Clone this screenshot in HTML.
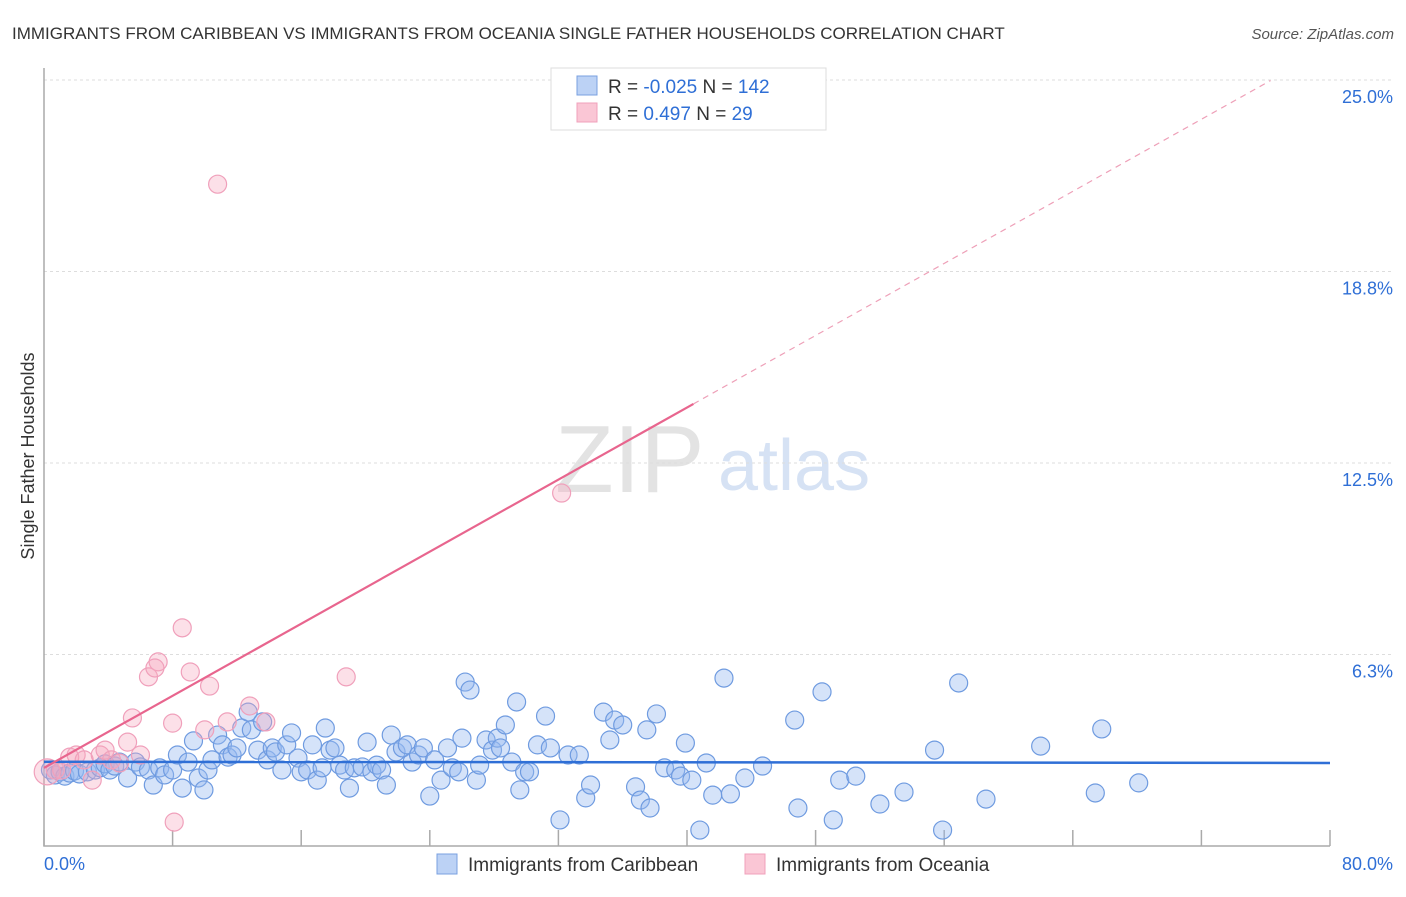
<!DOCTYPE html>
<html><head><meta charset="utf-8"><style>
body{margin:0;background:#fff;font-family:"Liberation Sans",sans-serif;}
svg text{font-family:"Liberation Sans",sans-serif;}
</style></head><body>
<svg id="chart" width="1406" height="892" xmlns="http://www.w3.org/2000/svg">
<text x="12" y="39" font-size="17" fill="#333">IMMIGRANTS FROM CARIBBEAN VS IMMIGRANTS FROM OCEANIA SINGLE FATHER HOUSEHOLDS CORRELATION CHART</text>
<text x="1394" y="39" font-size="15" fill="#555" text-anchor="end" font-style="italic">Source: ZipAtlas.com</text>
<g>
<text x="555" y="492" font-size="96" fill="#d8d8d8" font-family="Liberation Serif" opacity="0.7">ZIP</text>
<text x="718" y="490" font-size="72" fill="#c5d6f0" opacity="0.7">atlas</text>
</g>
<g id="grid"></g>
<g id="axes"></g>
<g id="marks"></g>
<g id="trends"></g>
<text transform="translate(34,456) rotate(-90)" font-size="18" fill="#333" text-anchor="middle">Single Father Households</text>
<g>
<rect x="551" y="68" width="275" height="62" fill="#fff" stroke="#ddd"/>
<rect x="577" y="76" width="20" height="19" fill="#bcd2f5" stroke="#7aa0e0"/>
<rect x="577" y="103" width="20" height="19" fill="#fac6d5" stroke="#f0a0bb"/>
<text x="608" y="93" font-size="19" fill="#333">R = <tspan fill="#2f6fd6">-0.025</tspan>   N = <tspan fill="#2f6fd6">142</tspan></text>
<text x="608" y="120" font-size="19" fill="#333">R =   <tspan fill="#2f6fd6">0.497</tspan>   N =   <tspan fill="#2f6fd6">29</tspan></text>
</g>
<g>
<rect x="437" y="854" width="20" height="20" fill="#bcd2f5" stroke="#7aa0e0"/>
<text x="468" y="871" font-size="19" fill="#333">Immigrants from Caribbean</text>
<rect x="745" y="854" width="20" height="20" fill="#fac6d5" stroke="#f0a0bb"/>
<text x="776" y="871" font-size="19" fill="#333">Immigrants from Oceania</text>
</g>
</svg>
<script>
const yTicks=[6.25,12.5,18.75,25];
const yTickLabels=["6.3%","12.5%","18.8%","25.0%"];
const xTicks=[0,8,16,24,32,40,48,56,64,72,80];
const blueX=[0.4,0.7,1.0,1.3,1.6,1.9,2.2,2.7,3.2,3.5,3.8,4.1,4.4,4.7,5.2,5.7,6.0,6.5,6.8,7.2,7.5,8.0,8.3,8.6,8.96,9.3,9.6,9.95,10.2,10.45,10.8,11.1,11.45,11.7,12.0,12.3,12.7,12.9,13.3,13.6,13.9,14.2,14.4,14.8,15.1,15.4,15.8,16.0,16.4,16.7,17.0,17.3,17.5,17.8,18.1,18.4,18.7,19.0,19.3,19.8,20.1,20.4,20.7,21.0,21.3,21.6,21.9,22.3,22.6,22.9,23.3,23.6,24.0,24.3,24.7,25.1,25.4,25.8,26.0,26.2,26.5,26.9,27.1,27.5,27.9,28.2,28.4,28.7,29.1,29.4,29.6,29.9,30.2,30.7,31.2,31.5,32.1,32.6,33.3,33.7,34.0,34.8,35.2,35.5,36.0,36.8,37.1,37.5,37.7,38.1,38.6,39.3,39.6,39.9,40.3,40.8,41.2,41.6,42.7,43.6,42.3,44.7,46.7,46.9,48.4,49.1,49.5,50.5,52.0,53.5,55.4,55.9,56.9,58.6,62.0,65.4,65.8,68.1];
const blueY=[2.48,2.32,2.42,2.28,2.38,2.45,2.35,2.42,2.48,2.55,2.68,2.48,2.61,2.74,2.22,2.74,2.58,2.48,1.99,2.55,2.32,2.48,2.97,1.89,2.74,3.43,2.22,1.83,2.48,2.81,3.62,3.30,2.90,2.97,3.20,3.85,4.37,3.79,3.13,4.05,2.81,3.20,3.07,2.48,3.30,3.69,2.87,2.42,2.48,3.30,2.15,2.55,3.85,3.13,3.20,2.64,2.48,1.89,2.55,2.58,3.39,2.42,2.64,2.48,1.99,3.62,3.07,3.20,3.30,2.74,2.97,3.20,1.63,2.81,2.15,3.20,2.55,2.42,3.52,5.35,5.09,2.15,2.64,3.46,3.13,3.52,3.20,3.95,2.74,4.70,1.83,2.42,2.42,3.30,4.24,3.20,0.85,2.97,2.97,1.57,1.99,4.37,3.46,4.11,3.95,1.93,1.50,3.79,1.24,4.31,2.55,2.48,2.28,3.36,2.15,0.52,2.71,1.66,1.70,2.22,5.48,2.61,4.11,1.24,5.03,0.85,2.15,2.28,1.37,1.76,3.13,0.52,5.32,1.53,3.26,1.73,3.82,2.06];
const pinkX=[0.2,0.7,1.1,1.6,2.0,2.5,3.0,3.5,3.8,4.2,4.7,5.2,5.5,6.0,6.5,7.1,6.9,8.0,8.1,8.6,9.1,10.0,10.3,10.8,11.4,12.8,13.8,18.8,32.2];
const pinkY=[2.42,2.48,2.48,2.90,2.97,2.81,2.15,2.97,3.13,2.81,2.71,3.39,4.18,2.97,5.52,6.01,5.81,4.01,0.78,7.12,5.68,3.79,5.22,21.6,4.05,4.57,4.05,5.52,11.52];
const blueTrend=[2.75,2.71];      // y at x=0, y at x=80
const pinkTrend=[2.55,0.294];     // intercept, slope
const pinkSolidEnd=40.4;
const pinkDashEnd=76.3;

const NS="http://www.w3.org/2000/svg";
const X0=44,X1=1330,Y0=846,Y25=80;
const sx=v=>X0+(X1-X0)*v/80;
const sy=v=>Y0-(Y0-Y25)*v/25;
function mk(tag,attrs,parent){const e=document.createElementNS(NS,tag);for(const k in attrs)e.setAttribute(k,attrs[k]);parent.appendChild(e);return e;}
const grid=document.getElementById('grid'),axes=document.getElementById('axes'),marks=document.getElementById('marks'),trends=document.getElementById('trends');
yTicks.forEach((t,i)=>{
  const l=mk('line',{x1:X0,x2:X1+64,y1:sy(t),y2:sy(t),stroke:'#ddd','stroke-dasharray':'3,3'},grid);
  
  
  const tx=mk('text',{x:1393,y:sy(t)+23,'font-size':18,fill:'#2f6fd6','text-anchor':'end'},grid);
  tx.textContent=yTickLabels[i];
  
  
});
const ax=mk('path',{d:`M${X0},${Y25-12}V${Y0}H${X1}`,stroke:'#aaa',fill:'none','stroke-width':1.5},axes);


xTicks.forEach(t=>{
  const l=mk('line',{x1:sx(t),x2:sx(t),y1:Y0-16,y2:Y0,stroke:'#aaa','stroke-width':1.5},axes);
  
  
});
const xl0=mk('text',{x:44,y:870,'font-size':18,fill:'#2f6fd6'},axes);xl0.textContent='0.0%';


const xl1=mk('text',{x:1393,y:870,'font-size':18,fill:'#2f6fd6','text-anchor':'end'},axes);xl1.textContent='80.0%';


blueX.forEach((x,i)=>{
  const c=mk('circle',{cx:sx(x),cy:sy(blueY[i]),r:9,fill:'rgba(150,185,240,0.4)',stroke:'#6f9be0','stroke-width':1.2},marks);
  
  
});
pinkX.forEach((x,i)=>{
  const c=mk('circle',{cx:sx(x),cy:sy(pinkY[i]),r:i===0?13:9,fill:'rgba(245,165,190,0.35)',stroke:'#f0a0bb','stroke-width':1.2},marks);
  
  
});
const bt=mk('line',{x1:sx(0),y1:sy(blueTrend[0]),x2:sx(80),y2:sy(blueTrend[1]),stroke:'#2f6fd6','stroke-width':2.5},trends);


const pt=mk('line',{x1:sx(0),y1:sy(pinkTrend[0]),x2:sx(pinkSolidEnd),y2:sy(pinkTrend[0]+pinkTrend[1]*pinkSolidEnd),stroke:'#e8658e','stroke-width':2.2},trends);


const pd=mk('line',{x1:sx(pinkSolidEnd),y1:sy(pinkTrend[0]+pinkTrend[1]*pinkSolidEnd),x2:sx(pinkDashEnd),y2:sy(pinkTrend[0]+pinkTrend[1]*pinkDashEnd),stroke:'#eea0b8','stroke-width':1.2,'stroke-dasharray':'6,5'},trends);


</script>
</body></html>
